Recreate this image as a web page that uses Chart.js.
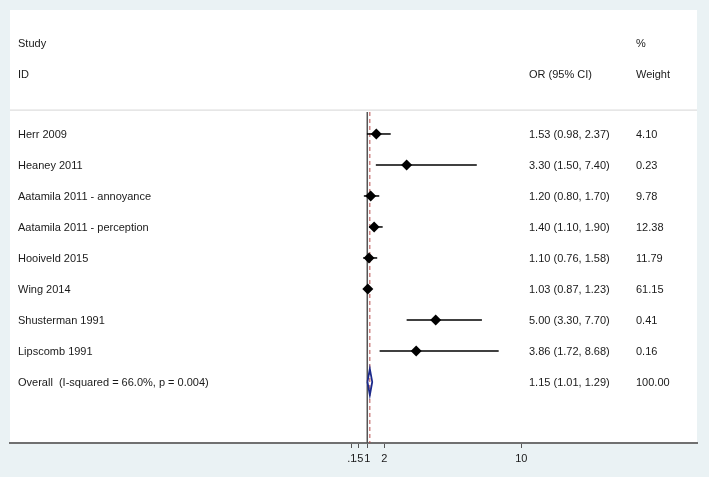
<!DOCTYPE html>
<html>
<head>
<meta charset="utf-8">
<script src="https://cdn.jsdelivr.net/npm/chart.js@4.4.1/dist/chart.umd.min.js"></script>
<style>
  html, body { margin: 0; padding: 0; background: #eaf2f4; }
  #wrap { width: 709px; height: 477px; }
</style>
</head>
<body>
<div id="wrap"><canvas id="forest" width="709" height="477"></canvas></div>
<script>
// Data
const studies = ['Herr 2009', 'Heaney 2011', 'Aatamila 2011 - annoyance', 'Aatamila 2011 - perception',
  'Hooiveld 2015', 'Wing 2014', 'Shusterman 1991', 'Lipscomb 1991'];
const oddsRatio = [1.53, 3.30, 1.20, 1.40, 1.10, 1.03, 5.00, 3.86];
const ciLower = [0.98, 1.50, 0.80, 1.10, 0.76, 0.87, 3.30, 1.72];
const ciUpper = [2.37, 7.40, 1.70, 1.90, 1.58, 1.23, 7.70, 8.68];
const weights = [4.10, 0.23, 9.78, 12.38, 11.79, 61.15, 0.41, 0.16];

const overallLabel = 'Overall  (I-squared = 66.0%, p = 0.004)';
const overallOR = 1.15;
const overallCI = [1.01, 1.29];
const overallWeight = 100.00;

const xTicks = [0.1, 0.5, 1, 2, 10];
const xTickLabels = ['.1', '.5', '1', '2', '10'];

const FONT = '11px "Liberation Sans", Arial, sans-serif';
const rowOf = i => i + 1;
const overallRow = studies.length + 1;

// CI lines, one dataset per study
const ciSets = studies.map((s, i) => ({
  data: [{ x: ciLower[i], y: rowOf(i) }, { x: ciUpper[i], y: rowOf(i) }],
  showLine: true,
  borderColor: '#000',
  borderWidth: 1.5,
  pointRadius: 0,
  order: 1
}));

// Background + text columns
const forestPlugin = {
  id: 'forest',
  beforeDraw(chart) {
    const { ctx, chartArea: a } = chart;
    ctx.save();
    ctx.fillStyle = '#eaf2f4';
    ctx.fillRect(0, 0, chart.width, chart.height);
    ctx.fillStyle = '#fff';
    ctx.fillRect(a.left, a.top, a.right - a.left, a.bottom - a.top);
    // header separator
    const yS = chart.scales.y.getPixelForValue(0.23);
    ctx.strokeStyle = '#d6d6d6';
    ctx.lineWidth = 1;
    ctx.beginPath();
    ctx.moveTo(a.left, yS);
    ctx.lineTo(a.right, yS);
    ctx.stroke();
    ctx.restore();
  },
  afterDatasetsDraw(chart) {
    const { ctx, chartArea: a } = chart;
    const y = chart.scales.y;
    const py = v => y.getPixelForValue(v) + 1;
    const xName = a.left + 8;
    const xOR = a.left + 519;
    const xW = a.left + 626;
    ctx.save();
    ctx.font = FONT;
    ctx.fillStyle = '#1a1a1a';
    ctx.textBaseline = 'middle';
    ctx.textAlign = 'left';
    ctx.fillText('Study', xName, py(-1.94));
    ctx.fillText('ID', xName, py(-0.94));
    ctx.fillText('%', xW, py(-1.94));
    ctx.fillText('OR (95% CI)', xOR, py(-0.94));
    ctx.fillText('Weight', xW, py(-0.94));
    studies.forEach((s, i) => {
      const r = py(rowOf(i));
      ctx.fillText(s, xName, r);
      ctx.fillText(`${oddsRatio[i].toFixed(2)} (${ciLower[i].toFixed(2)}, ${ciUpper[i].toFixed(2)})`, xOR, r);
      ctx.fillText(weights[i].toFixed(2), xW, r);
    });
    const po = py(overallRow);
    ctx.fillText(overallLabel, xName, po);
    ctx.fillText(`${overallOR.toFixed(2)} (${overallCI[0].toFixed(2)}, ${overallCI[1].toFixed(2)})`, xOR, po);
    ctx.fillText(overallWeight.toFixed(2), xW, po);
    ctx.restore();
  }
};

const ctx = document.getElementById('forest').getContext('2d');
const forest = new Chart(ctx, {
  type: 'scatter',
  data: {
    datasets: [
      {
        // point estimates
        data: oddsRatio.map((v, i) => ({ x: v, y: rowOf(i) })),
        pointStyle: 'rectRot',
        pointRadius: 5.5,
        backgroundColor: '#000',
        borderColor: '#000',
        borderWidth: 0,
        order: 0
      },
      ...ciSets,
      {
        // overall diamond
        data: [
          { x: overallCI[0], y: overallRow },
          { x: overallOR, y: overallRow - 0.42 },
          { x: overallCI[1], y: overallRow },
          { x: overallOR, y: overallRow + 0.42 },
          { x: overallCI[0], y: overallRow }
        ],
        showLine: true,
        borderColor: '#1c2a8c',
        borderWidth: 1.8,
        pointRadius: 0,
        tension: 0,
        order: 0
      },
      {
        // null line
        data: [{ x: 1, y: 0.29 }, { x: 1, y: 11 }],
        showLine: true,
        borderColor: '#555',
        borderWidth: 1.5,
        pointRadius: 0,
        order: 3
      },
      {
        // overall effect line
        data: [{ x: overallOR, y: 0.29 }, { x: overallOR, y: 11 }],
        showLine: true,
        borderColor: '#b54a4a',
        borderWidth: 1,
        borderDash: [4, 3],
        pointRadius: 0,
        order: 2
      }
    ]
  },
  options: {
    responsive: false,
    animation: false,
    devicePixelRatio: 1,
    layout: { padding: { top: 10, left: 10, right: 12, bottom: 0 } },
    plugins: { legend: { display: false }, tooltip: { enabled: false } },
    scales: {
      x: {
        type: 'linear',
        min: -19.88,
        max: 20.27,
        afterBuildTicks: axis => { axis.ticks = xTicks.map(v => ({ value: v })); },
        afterFit: axis => { axis.height = 34; },
        ticks: {
          autoSkip: false,
          maxRotation: 0,
          padding: 4,
          color: '#1a1a1a',
          font: { family: '"Liberation Sans", Arial, sans-serif', size: 11 },
          callback: v => xTickLabels[xTicks.indexOf(v)]
        },
        grid: { drawOnChartArea: false, drawTicks: true, tickLength: 5, color: '#555', lineWidth: 1 },
        border: { display: true, color: '#707070', width: 2 }
      },
      y: {
        type: 'linear',
        display: false,
        reverse: true,
        min: -3,
        max: 10.97
      }
    }
  },
  plugins: [forestPlugin]
});
</script>
</body>
</html>
